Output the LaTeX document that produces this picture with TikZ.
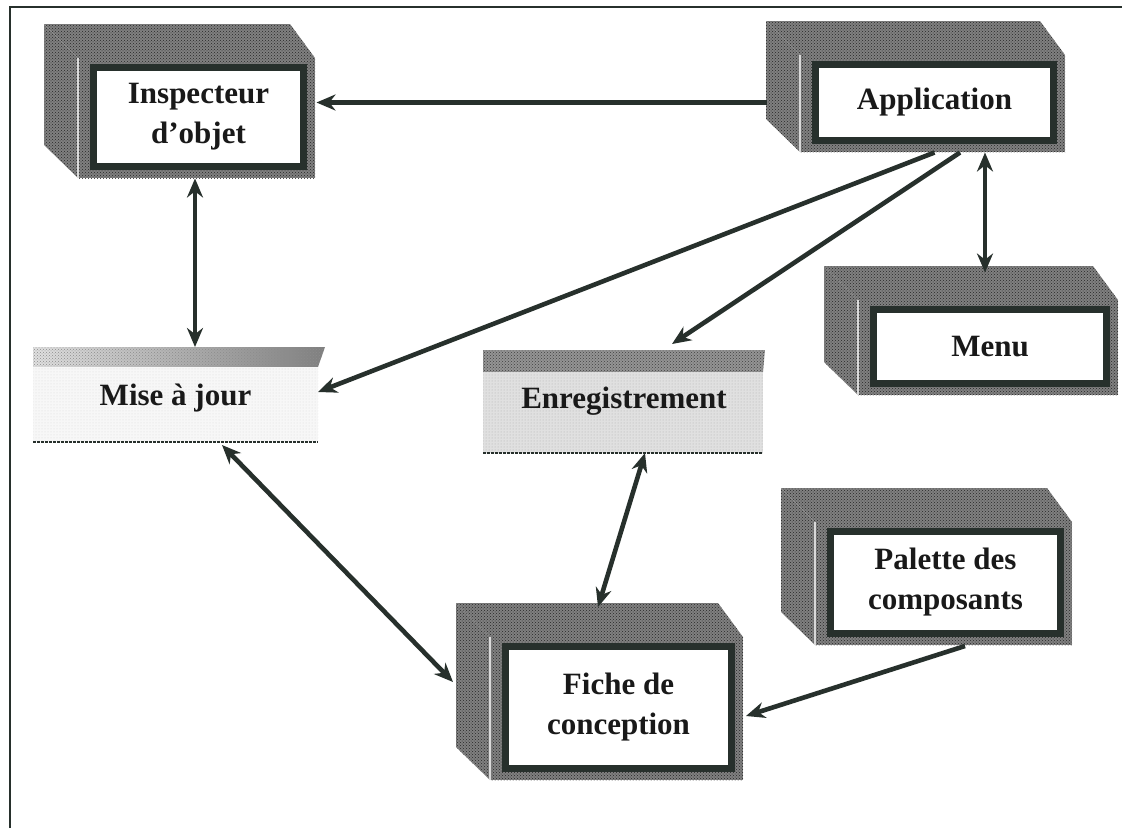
\documentclass[tikz,border=0pt]{standalone}
\usepackage{fontspec}
\setmainfont{Liberation Serif}
\usetikzlibrary{arrows.meta,calc,patterns}

\definecolor{ink}{HTML}{27302C}
\definecolor{facegray}{HTML}{808080}

\tikzset{
  texture/.style={fill=facegray, postaction={pattern=crosshatch dots, pattern color=black!85}},
  facebox/.style={draw=ink, line width=7pt, fill=white, inner sep=0pt, outer sep=0pt,
    align=center, text=black!90, font=\bfseries\fontsize{31}{40}\selectfont},
  flattext/.style={inner sep=0pt, outer sep=0pt, align=center, text=black!90,
    font=\bfseries\fontsize{31}{40}\selectfont},
  tip/.tip={Stealth[length=19pt,width=16pt]},
  conn/.style={draw=ink, line width=4.6pt, -tip},
  bothconn/.style={draw=ink, line width=4.6pt, tip-tip},
}

% 3-D box: #1 name, (#2,#3)-(#4,#5) front face, #6 text
\newcommand\cubebox[6]{%
  \path[texture] (#2-34,#3-34) -- (#4-25,#3-34) -- (#4,#3) -- (#2,#3) -- cycle;
  \path[texture] (#2-34,#3-34) -- (#2,#3) -- (#2,#5) -- (#2-34,#5-33) -- cycle;
  \path[texture] (#2,#3) rectangle (#4,#5);
  \draw[black!15, line width=1.2pt] (#2,#3) -- (#2,#5);
  \node[facebox, minimum width=#4-#2-27, minimum height=#5-#3-21] (#1)
    at ({(#2+#4+4)/2},{(#3+#5-2)/2}) {#6};
}

\begin{document}
\begin{tikzpicture}[x=1pt,y=-1pt]
\useasboundingbox (0,0) rectangle (1122,828);
\fill[white] (0,0) rectangle (1122,828);

% frame
\draw[ink, line width=1.6pt] (10,828) -- (10,7) -- (1122,7);

% boxes
\cubebox{insp}{78}{58}{315}{178}{Inspecteur\\d’objet}
\cubebox{app}{800}{55}{1065}{152}{Application}
\cubebox{menu}{858}{300}{1118}{395}{Menu}
\cubebox{pal}{815}{522}{1072}{645}{Palette des\\composants}
\cubebox{fiche}{490}{637}{743}{780}{Fiche de\\conception}

% flat panels
\path[left color=black!12, right color=black!50, postaction={pattern=crosshatch dots, pattern color=black!45}]
  (33,347) -- (325,347) -- (318,367) -- (33,367) -- cycle;
\path[fill=black!3, postaction={pattern=dots, pattern color=black!15}] (33,367) rectangle (318,442);
\draw[ink, line width=1.2pt, dash pattern=on 3pt off 1pt] (33,442) -- (318,442);
\node[flattext, minimum width=285, minimum height=102] (maj) at (175.5,398) {Mise à jour};

\path[fill=black!42, postaction={pattern=crosshatch dots, pattern color=black!75}]
  (483,350) -- (765,350) -- (763,372) -- (483,372) -- cycle;
\path[fill=black!12, postaction={pattern=dots, pattern color=black!32}] (483,372) rectangle (763,453);
\draw[ink, line width=1.2pt, dash pattern=on 3pt off 1pt] (483,453) -- (763,453);
\node[flattext, minimum width=282, minimum height=103] (enr) at (624,401.5) {Enregistrement};

% connectors
\draw[conn] ($(app.west)+(-49,0)$) -- ($(insp.east |- app.west)+(13,0)$);
\draw[bothconn] ($(insp.south)+(-3.5,12)$) -- ($(maj.north)+(19.5,0)$);
\draw[conn] ($(app.south)+(0,12)$) -- ($(maj.east)+(0,-6)$);
\draw[conn] ($(app.south)+(25.5,12)$) -- ($(enr.north)+(48,-6)$);
\draw[bothconn] ($(app.south)+(50.5,12)$) -- ($(menu.north)+(-5,-37)$);
\draw[bothconn] ($(maj.south)+(46.5,-4)$) -- ($(fiche.west)+(-52.5,-25.5)$);
\draw[bothconn] ($(enr.south)+(21,0)$) -- ($(fiche.north)+(-20.5,-39.5)$);
\draw[conn] ($(pal.south)+(19.5,12.5)$) -- ($(fiche.east)+(14.5,8.5)$);
\end{tikzpicture}
\end{document}
